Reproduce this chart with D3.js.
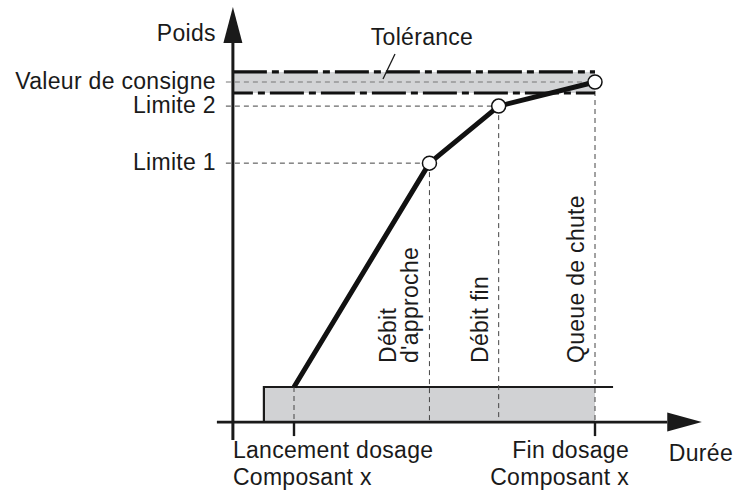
<!DOCTYPE html>
<html><head><meta charset="utf-8">
<script src="https://cdn.jsdelivr.net/npm/d3@7"></script>
<style>
html,body{margin:0;padding:0;background:#fff;}
svg text{font-family:"Liberation Sans",Arial,Helvetica,sans-serif;font-size:23px;letter-spacing:0.3px;fill:#1a1a1a;}
</style></head>
<body><svg id="c" width="741" height="494"></svg>
<script>
// ---- data ----
const phaseTimes = [0, 4.5, 6.8, 10];          // lancement, limite 1, limite 2, fin
const phaseWeights = [0, 73.4, 92.1, 100];     // weight reached at each phase time
const levelLabels = ["Limite 1", "Limite 2", "Valeur de consigne"];
const levelValues = [73.4, 92.1, 100];
const tolerance = [96.4, 103.3];
const phaseLabels = [["Débit", "d'approche"], ["Débit fin"], ["Queue de chute"]];
const signalTimes = [-1, 10, 10.6];            // dosing signal: rise, fill end, line end
const signalLevels = [-11.5, 0];               // low / high of signal
const timeTicks = [0, 10];
const timeTickLabels = [["Lancement dosage", "Composant x"], ["Fin dosage", "Composant x"]];
const axisTitles = ["Poids", "Durée"];
const toleranceLabel = "Tolérance";
const origin = [-2.03, -11.5];
const axisEnds = [12.4, 13.55, 112.8, 124.6];  // x line end, x tip, y line end, y tip

// ---- scales ----
const x = d3.scaleLinear().domain([0, 10]).range([294, 595]);
const y = d3.scaleLinear().domain([0, 100]).range([387, 82]);

const svg = d3.select("#c");
const dashed = "5,4";

// tolerance band
svg.append("rect")
  .attr("x", x(origin[0])).attr("y", y(tolerance[1]))
  .attr("width", x(phaseTimes[3]) - x(origin[0]))
  .attr("height", y(tolerance[0]) - y(tolerance[1]))
  .attr("fill", "#d3d4d6");

// dosing signal box
svg.append("rect")
  .attr("x", x(signalTimes[0])).attr("y", y(signalLevels[1]))
  .attr("width", x(signalTimes[1]) - x(signalTimes[0]))
  .attr("height", y(signalLevels[0]) - y(signalLevels[1]))
  .attr("fill", "#d1d2d4");
svg.append("path")
  .attr("d", d3.line()([[x(signalTimes[0]), y(signalLevels[0])], [x(signalTimes[0]), y(signalLevels[1])], [x(signalTimes[2]), y(signalLevels[1])]]))
  .attr("fill", "none").attr("stroke", "#1a1a1a").attr("stroke-width", 2.2);

// horizontal dashed guides
levelValues.forEach((v, i) => {
  svg.append("line")
    .attr("x1", x(origin[0]) - 7).attr("x2", x(phaseTimes[i + 1]))
    .attr("y1", y(v)).attr("y2", y(v))
    .attr("stroke", i === 2 ? "#777" : "#444").attr("stroke-width", 1)
    .attr("stroke-dasharray", dashed);
});
// vertical dashed guides
phaseTimes.forEach((t, i) => {
  svg.append("line")
    .attr("x1", x(t)).attr("x2", x(t))
    .attr("y1", y(phaseWeights[i])).attr("y2", y(origin[1]))
    .attr("stroke", "#444").attr("stroke-width", 1)
    .attr("stroke-dasharray", dashed);
});

// tolerance band borders (dash-dot)
svg.append("line")
  .attr("x1", x(origin[0])).attr("x2", x(phaseTimes[3]))
  .attr("y1", y(tolerance[1])).attr("y2", y(tolerance[1]))
  .attr("stroke", "#111").attr("stroke-width", 3.2)
  .attr("stroke-dasharray", "34,5,7,5");
svg.append("line")
  .attr("x1", x(origin[0])).attr("x2", x(phaseTimes[3]))
  .attr("y1", y(tolerance[0])).attr("y2", y(tolerance[0]))
  .attr("stroke", "#111").attr("stroke-width", 3.2)
  .attr("stroke-dasharray", "34,5,7,5").attr("stroke-dashoffset", 14);

// axes
svg.append("line")
  .attr("x1", x(origin[0]) - 16).attr("x2", x(axisEnds[0]))
  .attr("y1", y(origin[1])).attr("y2", y(origin[1]))
  .attr("stroke", "#1a1a1a").attr("stroke-width", 2.6);
svg.append("path")
  .attr("d", d3.line()([[x(axisEnds[0]), y(origin[1]) - 9.5], [x(axisEnds[1]), y(origin[1])], [x(axisEnds[0]), y(origin[1]) + 9.5]]) + "Z")
  .attr("fill", "#1a1a1a");
svg.append("line")
  .attr("x1", x(origin[0])).attr("x2", x(origin[0]))
  .attr("y1", y(origin[1]) + 18).attr("y2", y(axisEnds[2]))
  .attr("stroke", "#1a1a1a").attr("stroke-width", 3);
svg.append("path")
  .attr("d", d3.line()([[x(origin[0]) - 9.5, y(axisEnds[2])], [x(origin[0]), y(axisEnds[3])], [x(origin[0]) + 9.5, y(axisEnds[2])]]) + "Z")
  .attr("fill", "#1a1a1a");

// time ticks
timeTicks.forEach(t => {
  svg.append("line")
    .attr("x1", x(t)).attr("x2", x(t))
    .attr("y1", y(origin[1])).attr("y2", y(origin[1]) + 14)
    .attr("stroke", "#1a1a1a").attr("stroke-width", 2.4);
});

// weight curve
svg.append("path")
  .attr("d", d3.line().x((d, i) => x(phaseTimes[i])).y(d => y(d))(phaseWeights))
  .attr("fill", "none").attr("stroke", "#111").attr("stroke-width", 5)
  .attr("stroke-linejoin", "round");
svg.selectAll("circle.pt").data(phaseWeights.slice(1)).enter().append("circle")
  .attr("class", "pt")
  .attr("cx", (d, i) => x(phaseTimes[i + 1])).attr("cy", d => y(d))
  .attr("r", 7).attr("fill", "#fff").attr("stroke", "#111").attr("stroke-width", 1.5);

// level labels
levelLabels.forEach((lab, i) => {
  svg.append("text")
    .attr("x", x(origin[0]) - 17).attr("y", y(levelValues[i]) + 7)
    .attr("text-anchor", "end").text(lab);
});
// axis titles
svg.append("text").attr("x", x(origin[0]) - 17).attr("y", 41)
  .attr("text-anchor", "end").text(axisTitles[0]);
svg.append("text").attr("x", x(axisEnds[1]) - 33).attr("y", 461)
  .attr("text-anchor", "start").text(axisTitles[1]);

// tolerance label & leader
svg.append("text").attr("x", 422).attr("y", 45).attr("text-anchor", "middle").text(toleranceLabel);
svg.append("line").attr("x1", 395).attr("y1", 54).attr("x2", 383).attr("y2", 79)
  .attr("stroke", "#1a1a1a").attr("stroke-width", 1.3);

// phase labels (rotated)
phaseLabels.forEach((lines, i) => {
  const bx = x(phaseTimes[i + 1]);
  const n = lines.length;
  lines.forEach((ln, j) => {
    const px = bx - 11 - (n - 1 - j) * 22;
    svg.append("text")
      .attr("transform", `translate(${px},${363}) rotate(-90)`)
      .attr("text-anchor", "start").text(ln);
  });
});

// time tick labels
timeTickLabels.forEach((lines, i) => {
  lines.forEach((ln, j) => {
    svg.append("text")
      .attr("x", i === 0 ? x(origin[0]) : 629)
      .attr("y", 458 + j * 27)
      .attr("text-anchor", i === 0 ? "start" : "end")
      .text(ln);
  });
});
</script></body></html>
